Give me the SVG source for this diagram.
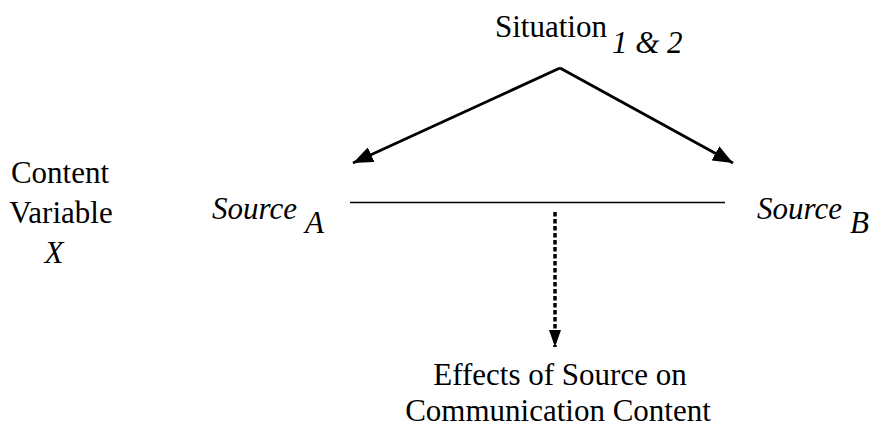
<svg xmlns="http://www.w3.org/2000/svg" width="871" height="427" viewBox="0 0 871 427">
<style>
text{font-family:'Liberation Serif','Times New Roman','DejaVu Serif',serif;font-size:31px;fill:#000}
.it{font-style:italic}
.solid{stroke:#000;stroke-width:2.8;fill:none}
.thin{stroke:#000;stroke-width:1.3;fill:none}
.dot{stroke:#000;stroke-width:3.5;stroke-dasharray:4.5 2.5;fill:none}
</style>
<defs>
<marker id="ah" markerUnits="userSpaceOnUse" markerWidth="22" markerHeight="16" refX="20" refY="8" orient="auto"><path d="M0,0 L20,8 L0,16 Z" fill="#000"/></marker>
<marker id="ah2" markerUnits="userSpaceOnUse" markerWidth="18" markerHeight="12" refX="17" refY="6" orient="auto"><path d="M0,0 L17,6 L0,12 Z" fill="#000"/></marker>
</defs>
<rect width="871" height="427" fill="#fff"/>
<g id="situation"><text x="495" y="37">Situation<tspan class="it" x="612" y="53">1 &amp; 2</tspan></text></g>
<g id="content-variable"><text x="60" y="183" text-anchor="middle">Content</text><text x="61" y="223" text-anchor="middle">Variable</text><text class="it" x="54" y="263" text-anchor="middle">X</text></g>
<g id="source-a"><text class="it" x="212" y="219">Source<tspan x="305" y="233">A</tspan></text></g>
<g id="source-b"><text class="it" x="757" y="219">Source<tspan x="850" y="233">B</tspan></text></g>
<g id="effects"><text x="560" y="385" text-anchor="middle">Effects of Source on</text><text x="558" y="421" text-anchor="middle">Communication Content</text></g>
<g id="connectors">
<path class="solid" d="M560,68 L353,163" marker-end="url(#ah)"/>
<path class="solid" d="M560,68 L733,163" marker-end="url(#ah)"/>
<path class="thin" d="M350,202.5 L725,202.5"/>
<path class="dot" d="M555,212 L555,347" marker-end="url(#ah2)"/>
</g>
</svg>
